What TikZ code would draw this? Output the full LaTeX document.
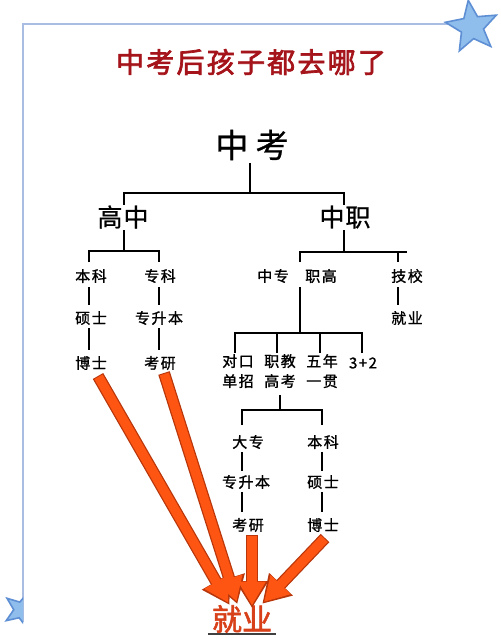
\documentclass[tikz,border=0pt]{standalone}
\usepackage{fontspec}
\setmainfont{Noto Sans CJK SC}
\newfontfamily\titlef[LetterSpace=8,FakeBold=2.5]{Noto Sans CJK SC}
\newfontfamily\bigf[LetterSpace=22,FakeBold=0.8]{Noto Sans CJK SC}
\newfontfamily\midf[LetterSpace=4,FakeBold=0.8]{Noto Sans CJK SC}
\newfontfamily\smf[LetterSpace=10,FakeBold=1.2]{Noto Sans CJK SC}
\newfontfamily\jyf[FakeBold=2]{Noto Sans CJK SC}
\usetikzlibrary{arrows.meta,shapes.geometric}
\definecolor{framec}{HTML}{A9BDE2}
\definecolor{starfill}{HTML}{8FBDEC}
\definecolor{stardraw}{HTML}{5E8FD4}
\definecolor{titlered}{HTML}{A5141A}
\definecolor{arrfill}{HTML}{FF5512}
\definecolor{arrdark}{HTML}{B8360A}
\definecolor{jyred}{HTML}{D8401A}
\tikzset{
  lbl/.style={inner sep=0pt, font=\smf\fontsize{15}{20}\selectfont, align=center},
  lvl2/.style={inner sep=0pt, font=\midf\fontsize{25}{26}\selectfont},
  tree/.style={line width=1.3pt, black},
  arrdk/.style={line width=12pt, arrdark, -{Triangle[length=27pt,width=31pt]}},
  arrfg/.style={line width=9.5pt, arrfill, -{Triangle[length=24pt,width=26pt]}},
  starshape/.style={star, star points=5, star point ratio=2.3, fill=starfill, draw=stardraw, line width=1.6pt, inner sep=0pt}
}
\begin{document}
\begin{tikzpicture}[x=1pt,y=-1pt]
\useasboundingbox (0,0) rectangle (500,644);
\fill[white] (0,0) rectangle (500,644);
% frame
\draw[framec, line width=1.6pt] (23,622) -- (23,24) -- (452,24);
\node[starshape, minimum size=54pt, rotate=8] (st1) at (472,27) {};
\begin{scope}
\clip (0,585) rectangle (23,640);
\node[starshape, minimum size=38pt, rotate=-20] (st2) at (22,610) {};
\end{scope}
% title
\node[inner sep=0pt, text=titlered, font=\titlef\fontsize{28}{30}\selectfont] (title) at (251,62) {中考后孩子都去哪了};
% level 1
\node[inner sep=0pt, font=\bigf\fontsize{33}{34}\selectfont] (zk) at (252,145) {中考};
\node[lvl2] (gz) at (123,217) {高中};
\node[lvl2] (zz) at (345,217) {中职};
% level 3
\node[lbl] (bk1) at (91,276) {本科};
\node[lbl] (zk1) at (160,276) {专科};
\node[lbl] (ss1) at (91,318) {硕士};
\node[lbl] (zsb1) at (159,318) {专升本};
\node[lbl] (bs1) at (91,363) {博士};
\node[lbl] (ky1) at (160,363) {考研};
\node[lbl] (zzh) at (273,276) {中专};
\node[lbl] (zg) at (321,276) {职高};
\node[lbl] (jx) at (407,276) {技校};
\node[lbl] (jy1) at (407,318) {就业};
\node[lbl, anchor=north] (dk) at (238,354) {对口\\单招};
\node[lbl, anchor=north] (zj) at (280,354) {职教\\高考};
\node[lbl, anchor=north] (wn) at (322,354) {五年\\一贯};
\node[lbl] (sj) at (363,363) {3+2};
\node[lbl] (dz) at (248,442) {大专};
\node[lbl] (bk2) at (323,442) {本科};
\node[lbl] (zsb2) at (246,482) {专升本};
\node[lbl] (ss2) at (323,482) {硕士};
\node[lbl] (ky2) at (248,525) {考研};
\node[lbl] (bs2) at (323,525) {博士};
\node[inner sep=0pt, text=jyred, font=\jyf\fontsize{30}{30}\selectfont] (jyb) at (242,619) {就业};
\draw[black!75, line width=1.2pt] (208,634) -- (276,634);
% branch points
\coordinate (b0) at (250,193);
\coordinate (b1) at (124,251);
\coordinate (b2) at (344,252);
\coordinate (b2r) at (407,252);
\coordinate (b3) at (300,333);
\coordinate (b4) at (280,410);
% tree lines
\draw[tree] (250,163) -- (b0);
\draw[tree] (124,205) |- (b0) -| (344,205);
\draw[tree] (124,230) -- (b1);
\draw[tree] (89,262) |- (b1) -| (159,262);
\draw[tree] (344,230) -- (b2);
\draw[tree] (300,262) |- (b2) -- (b2r);
\draw[tree] (398,252) -- (398,262);
\draw[tree] (89,287) -- (89,305);
\draw[tree] (89,328) -- (89,350);
\draw[tree] (159,287) -- (159,305);
\draw[tree] (159,328) -- (159,350);
\draw[tree] (398,287) -- (398,305);
\draw[tree] (300,287) -- (b3);
\draw[tree] (235,353) |- (b3) -| (362,353);
\draw[tree] (277,333) -- (277,353);
\draw[tree] (320,333) -- (320,353);
\draw[tree] (280,395) -- (b4);
\draw[tree] (242,425) |- (b4) -| (322,425);
\draw[tree] (242,452) -- (242,471);
\draw[tree] (242,492) -- (242,512);
\draw[tree] (322,452) -- (322,471);
\draw[tree] (322,492) -- (322,512);
% arrows
\coordinate (t1) at (229,604);
\coordinate (t2) at (237,603);
\coordinate (t3) at (252,607);
\coordinate (t4) at (263,603);
\coordinate (s1) at (98,376);
\coordinate (s2) at (164,373);
\coordinate (s3) at (252,535);
\coordinate (s4) at (325,538);
\foreach \s/\t in {s1/t1, s2/t2, s3/t3, s4/t4}
  \draw[arrdk, shorten >=-1pt] (\s) -- (\t);
\foreach \s/\t in {s1/t1, s2/t2, s3/t3, s4/t4}
  \draw[arrfg, shorten <=1pt, shorten >=1.5pt] (\s) -- (\t);
\end{tikzpicture}
\end{document}
